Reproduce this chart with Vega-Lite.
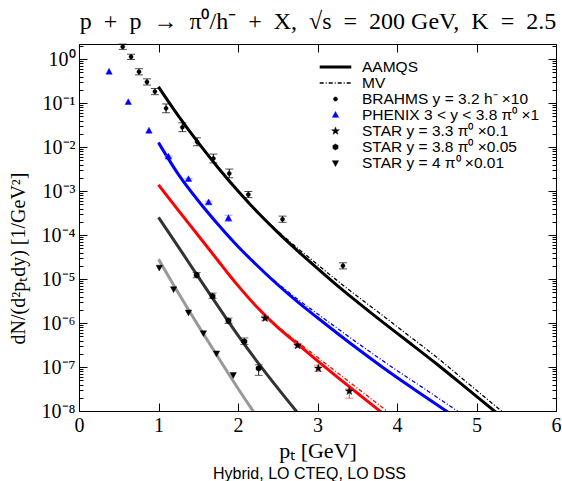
{
  "$schema": "https://vega.github.io/schema/vega-lite/v6.json",
  "width": 477,
  "height": 367,
  "autosize": {"type": "none"},
  "padding": {"left": 79, "top": 44, "right": 6, "bottom": 70},
  "title": {"text": "Hybrid, LO CTEQ, LO DSS", "orient": "bottom", "anchor": "middle", "font": "Liberation Sans", "fontSize": 16, "fontWeight": "normal", "color": "#000", "offset": 5, "dx": -8},
  "datasets": {
    "aamqs": [
      {"curve": "brahms", "x": 1.0, "y": 0.234},
      {"curve": "brahms", "x": 1.25, "y": 0.0513},
      {"curve": "brahms", "x": 1.5, "y": 0.0126},
      {"curve": "brahms", "x": 1.75, "y": 0.00339},
      {"curve": "brahms", "x": 2.0, "y": 0.001},
      {"curve": "brahms", "x": 2.25, "y": 3.24e-4},
      {"curve": "brahms", "x": 2.5, "y": 1.15e-4},
      {"curve": "brahms", "x": 2.75, "y": 4.37e-5},
      {"curve": "brahms", "x": 3.0, "y": 1.74e-5},
      {"curve": "brahms", "x": 3.25, "y": 7.08e-6},
      {"curve": "brahms", "x": 3.5, "y": 3.02e-6},
      {"curve": "brahms", "x": 3.8, "y": 1.12e-6},
      {"curve": "brahms", "x": 4.1, "y": 4.27e-7},
      {"curve": "brahms", "x": 4.5, "y": 1.17e-7},
      {"curve": "brahms", "x": 4.9, "y": 3.02e-8},
      {"curve": "brahms", "x": 5.3, "y": 7.76e-9},
      {"curve": "phenix", "x": 1.0, "y": 0.0126},
      {"curve": "phenix", "x": 1.25, "y": 0.0024},
      {"curve": "phenix", "x": 1.5, "y": 6.03e-4},
      {"curve": "phenix", "x": 1.75, "y": 1.74e-4},
      {"curve": "phenix", "x": 2.0, "y": 5.5e-5},
      {"curve": "phenix", "x": 2.25, "y": 1.95e-5},
      {"curve": "phenix", "x": 2.5, "y": 7.41e-6},
      {"curve": "phenix", "x": 2.75, "y": 3.02e-6},
      {"curve": "phenix", "x": 3.0, "y": 1.32e-6},
      {"curve": "phenix", "x": 3.5, "y": 2.63e-7},
      {"curve": "phenix", "x": 4.0, "y": 5.75e-8},
      {"curve": "phenix", "x": 4.4, "y": 1.86e-8},
      {"curve": "phenix", "x": 4.7, "y": 7.94e-9},
      {"curve": "star33", "x": 1.0, "y": 0.00138},
      {"curve": "star33", "x": 1.25, "y": 3.63e-4},
      {"curve": "star33", "x": 1.5, "y": 9.77e-5},
      {"curve": "star33", "x": 1.75, "y": 2.6e-5},
      {"curve": "star33", "x": 1.9, "y": 1.17e-5},
      {"curve": "star33", "x": 2.0, "y": 7.08e-6},
      {"curve": "star33", "x": 2.25, "y": 2.19e-6},
      {"curve": "star33", "x": 2.5, "y": 7.94e-7},
      {"curve": "star33", "x": 2.75, "y": 3.31e-7},
      {"curve": "star33", "x": 3.0, "y": 1.38e-7},
      {"curve": "star33", "x": 3.25, "y": 5.89e-8},
      {"curve": "star33", "x": 3.5, "y": 2.57e-8},
      {"curve": "star33", "x": 3.8, "y": 9.55e-9},
      {"curve": "star33", "x": 3.9, "y": 6.92e-9},
      {"curve": "star38", "x": 1.0, "y": 2.51e-4},
      {"curve": "star38", "x": 1.25, "y": 5.37e-5},
      {"curve": "star38", "x": 1.5, "y": 1.12e-5},
      {"curve": "star38", "x": 1.75, "y": 2.4e-6},
      {"curve": "star38", "x": 2.0, "y": 5.25e-7},
      {"curve": "star38", "x": 2.25, "y": 1.26e-7},
      {"curve": "star38", "x": 2.5, "y": 3.31e-8},
      {"curve": "star38", "x": 2.75, "y": 9.12e-9},
      {"curve": "star38", "x": 2.85, "y": 5.5e-9},
      {"curve": "star4", "x": 1.0, "y": 2.82e-5},
      {"curve": "star4", "x": 1.25, "y": 4.79e-6},
      {"curve": "star4", "x": 1.5, "y": 8.71e-7},
      {"curve": "star4", "x": 1.75, "y": 1.66e-7},
      {"curve": "star4", "x": 2.0, "y": 3.24e-8},
      {"curve": "star4", "x": 2.2, "y": 9.33e-9},
      {"curve": "star4", "x": 2.3, "y": 5.01e-9}
    ],
    "mv": [
      {"curve": "brahms", "x": 1.0, "y": 0.234},
      {"curve": "brahms", "x": 1.25, "y": 0.0513},
      {"curve": "brahms", "x": 1.5, "y": 0.0126},
      {"curve": "brahms", "x": 1.75, "y": 0.00339},
      {"curve": "brahms", "x": 2.0, "y": 0.001},
      {"curve": "brahms", "x": 2.25, "y": 3.24e-4},
      {"curve": "brahms", "x": 2.5, "y": 1.23e-4},
      {"curve": "brahms", "x": 2.75, "y": 5.01e-5},
      {"curve": "brahms", "x": 3.0, "y": 2.14e-5},
      {"curve": "brahms", "x": 3.25, "y": 9.12e-6},
      {"curve": "brahms", "x": 3.5, "y": 4.07e-6},
      {"curve": "brahms", "x": 3.8, "y": 1.58e-6},
      {"curve": "brahms", "x": 4.1, "y": 6.03e-7},
      {"curve": "brahms", "x": 4.5, "y": 1.66e-7},
      {"curve": "brahms", "x": 4.9, "y": 4.17e-8},
      {"curve": "brahms", "x": 5.3, "y": 1.05e-8},
      {"curve": "brahms", "x": 5.45, "y": 6.31e-9},
      {"curve": "phenix", "x": 1.0, "y": 0.0126},
      {"curve": "phenix", "x": 1.25, "y": 0.0024},
      {"curve": "phenix", "x": 1.5, "y": 6.03e-4},
      {"curve": "phenix", "x": 1.75, "y": 1.74e-4},
      {"curve": "phenix", "x": 2.0, "y": 5.5e-5},
      {"curve": "phenix", "x": 2.25, "y": 1.95e-5},
      {"curve": "phenix", "x": 2.5, "y": 7.94e-6},
      {"curve": "phenix", "x": 2.75, "y": 3.47e-6},
      {"curve": "phenix", "x": 3.0, "y": 1.62e-6},
      {"curve": "phenix", "x": 3.5, "y": 3.55e-7},
      {"curve": "phenix", "x": 4.0, "y": 8.32e-8},
      {"curve": "phenix", "x": 4.4, "y": 2.75e-8},
      {"curve": "phenix", "x": 4.8, "y": 8.91e-9},
      {"curve": "phenix", "x": 4.9, "y": 6.76e-9},
      {"curve": "star33", "x": 1.0, "y": 0.00138},
      {"curve": "star33", "x": 1.25, "y": 3.63e-4},
      {"curve": "star33", "x": 1.5, "y": 9.77e-5},
      {"curve": "star33", "x": 1.75, "y": 2.6e-5},
      {"curve": "star33", "x": 1.9, "y": 1.17e-5},
      {"curve": "star33", "x": 2.0, "y": 7.08e-6},
      {"curve": "star33", "x": 2.25, "y": 2.19e-6},
      {"curve": "star33", "x": 2.5, "y": 8.32e-7},
      {"curve": "star33", "x": 2.75, "y": 3.72e-7},
      {"curve": "star33", "x": 3.0, "y": 1.66e-7},
      {"curve": "star33", "x": 3.25, "y": 7.41e-8},
      {"curve": "star33", "x": 3.5, "y": 3.31e-8},
      {"curve": "star33", "x": 3.8, "y": 1.26e-8},
      {"curve": "star33", "x": 3.9, "y": 9.12e-9},
      {"curve": "star33", "x": 4.0, "y": 6.61e-9}
    ],
    "points": [
      {"series": "BRAHMS y = 3.2 h⁻ ×10", "x": 0.55, "y": 1.905, "lo": 1.66, "hi": 2.19},
      {"series": "BRAHMS y = 3.2 h⁻ ×10", "x": 0.655, "y": 1.122, "lo": 0.977, "hi": 1.288},
      {"series": "BRAHMS y = 3.2 h⁻ ×10", "x": 0.755, "y": 0.513, "lo": 0.437, "hi": 0.603},
      {"series": "BRAHMS y = 3.2 h⁻ ×10", "x": 0.855, "y": 0.302, "lo": 0.257, "hi": 0.355},
      {"series": "BRAHMS y = 3.2 h⁻ ×10", "x": 0.955, "y": 0.182, "lo": 0.155, "hi": 0.214},
      {"series": "BRAHMS y = 3.2 h⁻ ×10", "x": 1.095, "y": 0.0759, "lo": 0.0603, "hi": 0.0955},
      {"series": "BRAHMS y = 3.2 h⁻ ×10", "x": 1.3, "y": 0.0282, "lo": 0.0224, "hi": 0.0355},
      {"series": "BRAHMS y = 3.2 h⁻ ×10", "x": 1.485, "y": 0.0132, "lo": 0.0107, "hi": 0.0162},
      {"series": "BRAHMS y = 3.2 h⁻ ×10", "x": 1.69, "y": 0.0055, "lo": 0.00437, "hi": 0.00692},
      {"series": "BRAHMS y = 3.2 h⁻ ×10", "x": 1.89, "y": 0.00251, "lo": 0.002, "hi": 0.00316},
      {"series": "BRAHMS y = 3.2 h⁻ ×10", "x": 2.13, "y": 8.32e-4, "lo": 7.08e-4, "hi": 9.77e-4},
      {"series": "BRAHMS y = 3.2 h⁻ ×10", "x": 2.56, "y": 2.29e-4, "lo": 1.95e-4, "hi": 2.69e-4},
      {"series": "BRAHMS y = 3.2 h⁻ ×10", "x": 3.32, "y": 2.0e-5, "lo": 1.7e-5, "hi": 2.34e-5},
      {"series": "PHENIX 3 < y < 3.8 π⁰ ×1", "x": 0.378, "y": 0.513},
      {"series": "PHENIX 3 < y < 3.8 π⁰ ×1", "x": 0.62, "y": 0.105},
      {"series": "PHENIX 3 < y < 3.8 π⁰ ×1", "x": 0.88, "y": 0.0234},
      {"series": "PHENIX 3 < y < 3.8 π⁰ ×1", "x": 1.125, "y": 0.00603, "lo": 0.00575, "hi": 0.00631},
      {"series": "PHENIX 3 < y < 3.8 π⁰ ×1", "x": 1.377, "y": 0.00186, "lo": 0.00178, "hi": 0.00195},
      {"series": "PHENIX 3 < y < 3.8 π⁰ ×1", "x": 1.63, "y": 5.5e-4, "lo": 5.13e-4, "hi": 5.89e-4},
      {"series": "PHENIX 3 < y < 3.8 π⁰ ×1", "x": 1.88, "y": 2.4e-4, "lo": 2.04e-4, "hi": 2.82e-4},
      {"series": "STAR y = 3.3 π⁰ ×0.1", "x": 2.34, "y": 1.29e-6, "lo": 1.15e-6, "hi": 1.45e-6},
      {"series": "STAR y = 3.3 π⁰ ×0.1", "x": 2.75, "y": 3.09e-7, "lo": 2.75e-7, "hi": 3.47e-7},
      {"series": "STAR y = 3.3 π⁰ ×0.1", "x": 3.01, "y": 9.33e-8, "lo": 7.94e-8, "hi": 1.1e-7},
      {"series": "STAR y = 3.3 π⁰ ×0.1", "x": 3.4, "y": 2.82e-8, "lo": 1.95e-8, "hi": 3.16e-8},
      {"series": "STAR y = 3.8 π⁰ ×0.05", "x": 1.48, "y": 1.23e-5, "lo": 1.07e-5, "hi": 1.41e-5},
      {"series": "STAR y = 3.8 π⁰ ×0.05", "x": 1.68, "y": 4.07e-6, "lo": 3.63e-6, "hi": 4.79e-6},
      {"series": "STAR y = 3.8 π⁰ ×0.05", "x": 1.88, "y": 1.12e-6, "lo": 9.77e-7, "hi": 1.29e-6},
      {"series": "STAR y = 3.8 π⁰ ×0.05", "x": 2.08, "y": 3.8e-7, "lo": 3.24e-7, "hi": 4.57e-7},
      {"series": "STAR y = 3.8 π⁰ ×0.05", "x": 2.26, "y": 9.33e-8, "lo": 6.46e-8, "hi": 1.12e-7},
      {"series": "STAR y = 4 π⁰ ×0.01", "x": 1.01, "y": 1.82e-5},
      {"series": "STAR y = 4 π⁰ ×0.01", "x": 1.19, "y": 5.89e-6},
      {"series": "STAR y = 4 π⁰ ×0.01", "x": 1.377, "y": 1.74e-6},
      {"series": "STAR y = 4 π⁰ ×0.01", "x": 1.565, "y": 5.89e-7},
      {"series": "STAR y = 4 π⁰ ×0.01", "x": 1.73, "y": 2.04e-7},
      {"series": "STAR y = 4 π⁰ ×0.01", "x": 1.94, "y": 6.61e-8}
    ]
  },
  "layer": [
    {
      "data": {"name": "aamqs"},
      "mark": {"type": "line", "strokeWidth": 3, "clip": true, "interpolate": "monotone"},
      "encoding": {
        "x": {"field": "x", "type": "quantitative", "scale": {"domain": [0, 6], "nice": false, "zero": false},
          "axis": {"orient": "bottom", "values": [0, 1, 2, 3, 4, 5, 6], "format": "d", "title": "pₜ [GeV]", "titleFontSize": 22, "tickSize": -8, "labelPadding": 12, "titlePadding": 5, "labelFlush": false}},
        "y": {"field": "y", "type": "quantitative", "scale": {"type": "log", "domain": [1e-8, 2.2], "nice": false},
          "axis": {"orient": "left", "values": [1, 0.1, 0.01, 0.001, 0.0001, 1e-5, 1e-6, 1e-7, 1e-8],
            "labelExpr": "'10' + ['⁰','⁻¹','⁻²','⁻³','⁻⁴','⁻⁵','⁻⁶','⁻⁷','⁻⁸'][round(-log(datum.value)/LN10)]",
            "tickSize": -8, "labelPadding": 12, "labelFlush": false,
            "title": "dN/(d²pₜdy) [1/GeV²]", "titleX": -61, "titleY": 214, "titleBaseline": "middle", "titleAngle": -90, "titleAlign": "center"}},
        "color": {"field": "curve", "type": "nominal", "scale": {"domain": ["brahms", "phenix", "star33", "star38", "star4"], "range": ["#000000", "#0000ff", "#ff0000", "#333333", "#999999"]}, "legend": null}
      }
    },
    {
      "data": {"name": "mv"},
      "mark": {"type": "line", "strokeWidth": 1.3, "strokeDash": [4, 2, 1, 2], "clip": true, "interpolate": "monotone"},
      "encoding": {
        "x": {"field": "x", "type": "quantitative",
          "axis": {"orient": "top", "values": [0, 1, 2, 3, 4, 5, 6], "labels": false, "tickSize": -8,
            "title": "p\u2002+\u2002p\u2002→\u2002π⁰/h⁻\u2002+\u2002X,\u2002√s\u2002=\u2002200 GeV,\u2002K\u2002=\u20022.5", "titleFontSize": 24, "titlePadding": 10}},
        "y": {"field": "y", "type": "quantitative",
          "axis": {"orient": "right", "values": [1, 0.1, 0.01, 0.001, 0.0001, 1e-5, 1e-6, 1e-7, 1e-8], "labels": false, "tickSize": -8, "title": null}},
        "color": {"field": "curve", "type": "nominal", "scale": {"domain": ["brahms", "phenix", "star33"], "range": ["#000000", "#0000ff", "#ff0000"]}, "legend": null}
      }
    },
    {
      "data": {"name": "points"},
      "transform": [{"filter": "datum.lo != null"}],
      "mark": {"type": "rule", "strokeWidth": 1},
      "encoding": {
        "x": {"field": "x", "type": "quantitative", "axis": null},
        "y": {"field": "lo", "type": "quantitative",
          "axis": {"orient": "left", "labels": false, "tickSize": -4, "title": null,
            "values": [2e-8, 3e-8, 4e-8, 5e-8, 6e-8, 7e-8, 8e-8, 9e-8, 2e-7, 3e-7, 4e-7, 5e-7, 6e-7, 7e-7, 8e-7, 9e-7, 2e-6, 3e-6, 4e-6, 5e-6, 6e-6, 7e-6, 8e-6, 9e-6, 2e-5, 3e-5, 4e-5, 5e-5, 6e-5, 7e-5, 8e-5, 9e-5, 0.0002, 0.0003, 0.0004, 0.0005, 0.0006, 0.0007, 0.0008, 0.0009, 0.002, 0.003, 0.004, 0.005, 0.006, 0.007, 0.008, 0.009, 0.02, 0.03, 0.04, 0.05, 0.06, 0.07, 0.08, 0.09, 0.2, 0.3, 0.4, 0.5, 0.6, 0.7, 0.8, 0.9, 2]}},
        "y2": {"field": "hi"},
        "color": {"field": "series", "type": "nominal", "scale": {"domain": ["BRAHMS y = 3.2 h⁻ ×10", "PHENIX 3 < y < 3.8 π⁰ ×1", "STAR y = 3.3 π⁰ ×0.1", "STAR y = 3.8 π⁰ ×0.05", "STAR y = 4 π⁰ ×0.01"], "range": ["#000000", "#8080ff", "#ff5050", "#222222", "#000000"]}, "legend": null}
      }
    },
    {
      "data": {"name": "points"},
      "transform": [{"filter": "datum.lo != null"}, {"fold": ["lo", "hi"], "as": ["end", "value"]}],
      "mark": {"type": "tick", "orient": "horizontal", "size": 8, "thickness": 1},
      "encoding": {
        "x": {"field": "x", "type": "quantitative", "axis": null},
        "y": {"field": "value", "type": "quantitative",
          "axis": {"orient": "right", "labels": false, "tickSize": -4, "title": null,
            "values": [2e-8, 3e-8, 4e-8, 5e-8, 6e-8, 7e-8, 8e-8, 9e-8, 2e-7, 3e-7, 4e-7, 5e-7, 6e-7, 7e-7, 8e-7, 9e-7, 2e-6, 3e-6, 4e-6, 5e-6, 6e-6, 7e-6, 8e-6, 9e-6, 2e-5, 3e-5, 4e-5, 5e-5, 6e-5, 7e-5, 8e-5, 9e-5, 0.0002, 0.0003, 0.0004, 0.0005, 0.0006, 0.0007, 0.0008, 0.0009, 0.002, 0.003, 0.004, 0.005, 0.006, 0.007, 0.008, 0.009, 0.02, 0.03, 0.04, 0.05, 0.06, 0.07, 0.08, 0.09, 0.2, 0.3, 0.4, 0.5, 0.6, 0.7, 0.8, 0.9, 2]}},
        "color": {"field": "series", "type": "nominal", "scale": {"domain": ["BRAHMS y = 3.2 h⁻ ×10", "PHENIX 3 < y < 3.8 π⁰ ×1", "STAR y = 3.3 π⁰ ×0.1", "STAR y = 3.8 π⁰ ×0.05", "STAR y = 4 π⁰ ×0.01"], "range": ["#000000", "#8080ff", "#ff5050", "#222222", "#000000"]}, "legend": null}
      }
    },
    {
      "data": {"name": "points"},
      "mark": {"type": "point", "filled": true, "size": 1000, "opacity": 1},
      "encoding": {
        "x": {"field": "x", "type": "quantitative", "axis": null},
        "y": {"field": "y", "type": "quantitative", "axis": null},
        "shape": {"field": "series", "type": "nominal", "scale": {"domain": ["AAMQS", "MV", "BRAHMS y = 3.2 h⁻ ×10", "PHENIX 3 < y < 3.8 π⁰ ×1", "STAR y = 3.3 π⁰ ×0.1", "STAR y = 3.8 π⁰ ×0.05", "STAR y = 4 π⁰ ×0.01"],
          "range": ["stroke", "stroke", "M0.13,0A0.13,0.13,0,1,1,-0.13,0A0.13,0.13,0,1,1,0.13,0Z", "M0,-0.22L0.2,0.15L-0.2,0.15Z", "M0,-0.26L0.062,-0.085L0.247,-0.08L0.1,0.032L0.153,0.21L0,0.105L-0.153,0.21L-0.1,0.032L-0.247,-0.08L-0.062,-0.085Z", "M0,-0.19L0.165,-0.095L0.165,0.095L0,0.19L-0.165,0.095L-0.165,-0.095Z", "M-0.2,-0.15L0.2,-0.15L0,0.22Z"]},
          "legend": {"title": null, "orient": "none", "legendX": 239, "legendY": 16, "symbolSize": 1000, "clipHeight": 14, "rowPadding": -1.2, "padding": 0, "labelOffset": 9, "labelFont": "Liberation Sans", "labelFontSize": 15.5, "labelColor": "#000", "labelLimit": 400}},
        "fill": {"field": "series", "type": "nominal", "scale": {"domain": ["AAMQS", "MV", "BRAHMS y = 3.2 h⁻ ×10", "PHENIX 3 < y < 3.8 π⁰ ×1", "STAR y = 3.3 π⁰ ×0.1", "STAR y = 3.8 π⁰ ×0.05", "STAR y = 4 π⁰ ×0.01"], "range": ["#000000", "#000000", "#000000", "#0000ff", "#000000", "#000000", "#000000"]}},
        "stroke": {"field": "series", "type": "nominal", "scale": {"domain": ["AAMQS", "MV", "BRAHMS y = 3.2 h⁻ ×10", "PHENIX 3 < y < 3.8 π⁰ ×1", "STAR y = 3.3 π⁰ ×0.1", "STAR y = 3.8 π⁰ ×0.05", "STAR y = 4 π⁰ ×0.01"], "range": ["#000000", "#000000", "#000000", "#0000ff", "#000000", "#000000", "#000000"]}},
        "strokeWidth": {"field": "series", "type": "nominal", "scale": {"type": "ordinal", "domain": ["AAMQS", "MV", "BRAHMS y = 3.2 h⁻ ×10", "PHENIX 3 < y < 3.8 π⁰ ×1", "STAR y = 3.3 π⁰ ×0.1", "STAR y = 3.8 π⁰ ×0.05", "STAR y = 4 π⁰ ×0.01"], "range": [3, 1.3, 0.5, 0.5, 0.5, 0.5, 0.5]}},
        "strokeDash": {"field": "series", "type": "nominal", "scale": {"domain": ["AAMQS", "MV", "BRAHMS y = 3.2 h⁻ ×10", "PHENIX 3 < y < 3.8 π⁰ ×1", "STAR y = 3.3 π⁰ ×0.1", "STAR y = 3.8 π⁰ ×0.05", "STAR y = 4 π⁰ ×0.01"], "range": [[1, 0], [4, 2, 1, 2], [1, 0], [1, 0], [1, 0], [1, 0], [1, 0]]}}
      }
    }
  ],
  "resolve": {"scale": {"color": "independent"}, "axis": {"x": "independent", "y": "independent"}},
  "config": {
    "view": {"stroke": "#000000", "strokeWidth": 1},
    "axis": {"grid": false, "domain": false, "tickColor": "#000000", "tickWidth": 1, "labelColor": "#000000", "titleColor": "#000000", "labelFont": "Liberation Serif", "labelFontSize": 20, "titleFont": "Liberation Serif", "titleFontSize": 20, "titleFontWeight": "normal"}
  }
}
